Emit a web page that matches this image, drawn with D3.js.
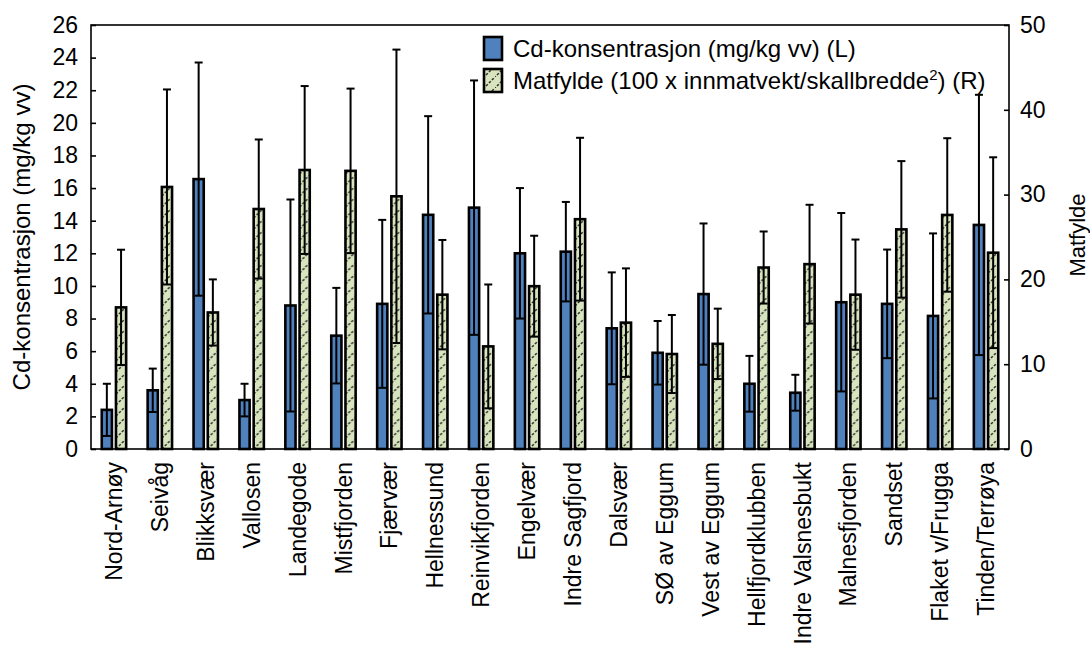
<!DOCTYPE html>
<html>
<head>
<meta charset="utf-8">
<script src="https://cdn.jsdelivr.net/npm/d3@7"></script>
<style>
  body { margin: 0; background: #fff; }
  svg text { font-family: "Liberation Sans", Arial, sans-serif; fill: #000; }
</style>
</head>
<body>
<svg id="chart" width="1090" height="657"></svg>
<script>
const categories = ["Nord-Arnøy","Seivåg","Blikksvær","Vallosen","Landegode","Mistfjorden","Fjærvær","Hellnessund","Reinvikfjorden","Engelvær","Indre Sagfjord","Dalsvær","SØ av Eggum","Vest av Eggum","Hellfjordklubben","Indre Valsnesbukt","Malnesfjorden","Sandset","Flaket v/Frugga","Tinden/Terrøya"];
const cdValues = [2.4, 3.6, 16.55, 3.0, 8.8, 6.95, 8.9, 14.36, 14.8, 12.0, 12.1, 7.4, 5.9, 9.5, 4.0, 3.45, 9.0, 8.9, 8.16, 13.74];
const cdSd     = [1.6, 1.33, 7.15, 1.0, 6.5, 2.93, 5.15, 6.05, 7.8, 4.0, 3.05, 3.43, 1.95, 4.33, 1.71, 1.1, 5.47, 3.33, 5.06, 7.98];
const matValues = [16.7, 30.9, 16.1, 28.3, 32.9, 32.8, 29.8, 18.2, 12.1, 19.2, 27.1, 14.9, 11.2, 12.4, 21.4, 21.8, 18.2, 25.9, 27.6, 23.15];
const matSd     = [6.8, 11.5, 3.9, 8.2, 9.9, 9.7, 17.3, 6.45, 7.3, 5.95, 9.6, 6.4, 4.6, 4.15, 4.25, 7.0, 6.5, 8.05, 9.05, 11.25];
const leftTicks = [0,2,4,6,8,10,12,14,16,18,20,22,24,26];
const rightTicks = [0,10,20,30,40,50];
const seriesKeys = ["cd","mat"];
const legendLabels = ["Cd-konsentrasjon (mg/kg vv) (L)", "Matfylde (100 x innmatvekt/skallbredde"];
const leftTitle = "Cd-konsentrasjon (mg/kg vv)";
const rightTitle = "Matfylde";

const svg = d3.select("#chart");
const L = 91, R = 1009, T = 25, B = 449;
const blue = "#4F81BD", green = "#D7E4BD";
const FONT = "Liberation Sans, Arial, sans-serif";

svg.append("rect").attr("width",1090).attr("height",657).attr("fill","#fff");

const defs = svg.append("defs");
const pat = defs.append("pattern").attr("id","hatch").attr("patternUnits","userSpaceOnUse")
  .attr("width",11).attr("height",11);
pat.append("rect").attr("width",11).attr("height",11).attr("fill",green);
pat.append("path").attr("d","M-1,12 L12,-1").attr("stroke","#2e2e2e").attr("stroke-width",1.5)
  .attr("stroke-dasharray","2.6,1.6");

const x0 = d3.scaleBand().domain(categories).range([L,R]);
const x1 = d3.scaleBand().domain(seriesKeys).range([-13.5,13.5]).paddingInner(0.1);
const yL = d3.scaleLinear().domain([0,26]).range([B,T]);
const yR = d3.scaleLinear().domain([0,50]).range([B,T]);

const data = categories.map((c,i)=>({c, vals:[
  {k:"cd", v:cdValues[i], sd:cdSd[i], y:yL},
  {k:"mat", v:matValues[i], sd:matSd[i], y:yR}
]}));

const sw = 2.6;
const g = svg.append("g");
const groups = g.selectAll("g.grp").data(data).join("g")
  .attr("transform", d=>`translate(${x0(d.c)+x0.bandwidth()/2},0)`);

groups.selectAll("rect").data(d=>d.vals).join("rect")
  .attr("x", d=>x1(d.k)+sw/2)
  .attr("width", x1.bandwidth()-sw)
  .attr("y", d=>d.y(d.v))
  .attr("height", d=>B - d.y(d.v))
  .attr("fill", d=>d.k==="cd"?blue:"url(#hatch)")
  .attr("stroke","#000").attr("stroke-width",sw);

// error bars
const eb = groups.selectAll("g.eb").data(d=>d.vals).join("g")
  .attr("transform", d=>`translate(${x1(d.k)+x1.bandwidth()/2},0)`);
eb.append("line").attr("y1",d=>d.y(d.v+d.sd)).attr("y2",d=>d.y(Math.max(0,d.v-d.sd)))
  .attr("stroke","#000").attr("stroke-width",2);
eb.append("line").attr("x1",-4).attr("x2",4).attr("y1",d=>d.y(d.v+d.sd)).attr("y2",d=>d.y(d.v+d.sd))
  .attr("stroke","#000").attr("stroke-width",2);
eb.append("line").attr("x1",-4).attr("x2",4).attr("y1",d=>d.y(d.v-d.sd)).attr("y2",d=>d.y(d.v-d.sd))
  .attr("stroke","#000").attr("stroke-width",2);

// frame
svg.append("rect").attr("x",L).attr("y",T).attr("width",R-L).attr("height",B-T)
  .attr("fill","none").attr("stroke","#000").attr("stroke-width",1.6);

// axes
const axL = svg.append("g").attr("transform",`translate(${L},0)`)
  .call(d3.axisLeft(yL).tickValues(leftTicks).tickSize(-5).tickPadding(13).tickFormat(d3.format("d")));
const axR = svg.append("g").attr("transform",`translate(${R},0)`)
  .call(d3.axisRight(yR).tickValues(rightTicks).tickSize(-5).tickPadding(11).tickFormat(d3.format("d")));
[axL,axR].forEach(a=>{
  a.select(".domain").remove();
  a.selectAll(".tick line").attr("stroke","#000").attr("stroke-width",1.6);
  a.selectAll(".tick text").attr("font-size",23).attr("font-family",FONT);
});

const axB = svg.append("g").attr("transform",`translate(0,${B})`)
  .call(d3.axisBottom(x0).tickSize(0).tickPadding(0));
axB.select(".domain").remove();
axB.selectAll(".tick text")
  .attr("font-size",23).attr("font-family",FONT)
  .attr("text-anchor","end").attr("transform","rotate(-90)")
  .attr("x",-13).attr("y",0).attr("dy","0.35em");

// axis titles
svg.append("text").attr("transform","translate(30,237) rotate(-90)")
  .attr("text-anchor","middle").attr("font-size",24).text(leftTitle);
svg.append("text").attr("transform","translate(1085,235) rotate(-90)")
  .attr("text-anchor","middle").attr("font-size",22).text(rightTitle);

// legend
const lg = svg.append("g");
const rows = [{y:36, fill:blue, label:legendLabels[0]}, {y:68, fill:"url(#hatch)", label:legendLabels[1]}];
rows.forEach((r,i)=>{
  lg.append("rect").attr("x",484).attr("y",r.y+1).attr("width",18).attr("height",23)
    .attr("fill",r.fill).attr("stroke","#000").attr("stroke-width",2.6);
  const t = lg.append("text").attr("x",513).attr("y",r.y+21).attr("font-size",24);
  t.append("tspan").text(r.label);
  if (i===1) {
    t.append("tspan").attr("dy",-9).attr("font-size",15).text("2");
    t.append("tspan").attr("dy",9).text(") (R)");
  }
});
</script>
</body>
</html>
